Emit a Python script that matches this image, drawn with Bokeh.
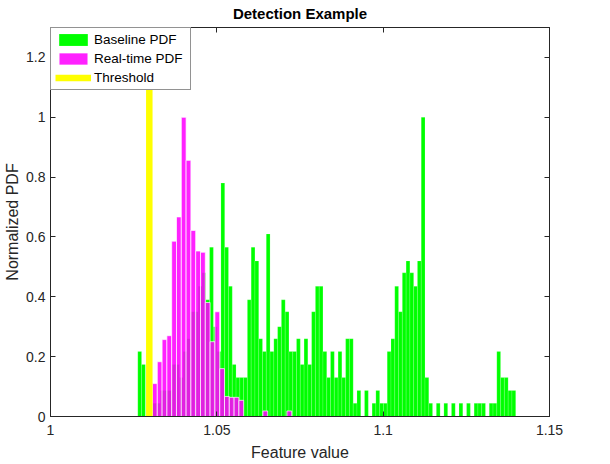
from bokeh.plotting import figure
from bokeh.models import (LinearAxis, Range1d, FixedTicker, Legend, LegendItem,
                          CustomLabelingPolicy)
from bokeh.embed import file_html
from bokeh.resources import INLINE

# Baseline feature distribution: 100 equal-width bins, normalised to peak = 1
baseline_start = 1.02624
baseline_width = 0.001136
baseline_pdf = [
    0.217, 0.174, 0.0, 0.0, 0.044, 0.044, 0.087, 0.087, 0.087, 0.174,
    0.174, 0.13, 0.217, 0.26, 0.35, 0.35, 0.435, 0.48, 0.39, 0.566,
    0.30, 0.217, 0.78, 0.566, 0.435, 0.174, 0.13, 0.13, 0.13, 0.39,
    0.566, 0.52, 0.26, 0.217, 0.61, 0.217, 0.26, 0.30, 0.39, 0.35,
    0.217, 0.217, 0.26, 0.174, 0.26, 0.174, 0.35, 0.435, 0.435, 0.217,
    0.13, 0.217, 0.13, 0.217, 0.13, 0.26, 0.26, 0.044, 0.087, 0.0,
    0.087, 0.0, 0.044, 0.087, 0.044, 0.044, 0.217, 0.26, 0.435, 0.35,
    0.48, 0.52, 0.48, 0.435, 0.52, 1.0, 0.13, 0.044, 0.0, 0.044,
    0.0, 0.044, 0.0, 0.044, 0.0, 0.044, 0.0, 0.044, 0.0, 0.044,
    0.044, 0.044, 0.0, 0.044, 0.044, 0.217, 0.13, 0.13, 0.087, 0.087,
]

# Real-time feature distribution
realtime_start = 1.03066
realtime_width = 0.001443
realtime_pdf = [
    0.11, 0.183, 0.257, 0.27, 0.586, 0.667, 1.0, 0.856, 0.622, 0.553,
    0.549, 0.381, 0.25, 0.35, 0.16, 0.067, 0.064, 0.064, 0.054, 0.0,
    0.0, 0.0, 0.0, 0.0185, 0.0, 0.0, 0.0, 0.0, 0.0185,
]

threshold = 1.0297

x_ticks = [1, 1.05, 1.1, 1.15]
y_ticks = [0, 0.2, 0.4, 0.6, 0.8, 1, 1.2]
x_tick_labels = {1: "1", 1.05: "1.05", 1.1: "1.1", 1.15: "1.15"}
y_tick_labels = {0: "0", 0.2: "0.2", 0.4: "0.4", 0.6: "0.6", 0.8: "0.8", 1: "1", 1.2: "1.2"}

FONT = "Liberation Sans"
AXIS_COLOR = "#262626"

b_centers = [baseline_start + (i + 0.5) * baseline_width for i in range(len(baseline_pdf))]
r_centers = [realtime_start + (i + 0.5) * realtime_width for i in range(len(realtime_pdf))]

p = figure(
    width=610, height=464,
    x_range=Range1d(1, 1.15), y_range=Range1d(0, 1.3),
    output_backend="svg", toolbar_location=None,
    min_border_left=50, min_border_right=61, min_border_top=27, min_border_bottom=48,
    title="Detection Example",
)
p.title.align = "center"
p.title.text_font = FONT
p.title.text_font_size = "15px"
p.title.text_font_style = "bold"
p.title.text_color = "black"
p.title.text_line_height = 0.9
p.title.standoff = 4

p.xgrid.visible = False
p.ygrid.visible = False
p.outline_line_color = AXIS_COLOR
p.background_fill_color = "white"
p.border_fill_color = "white"

green = p.vbar(x=b_centers, top=baseline_pdf, width=baseline_width,
               fill_color="#00FF00", line_color="white", line_alpha=0.3, line_width=0.5)
magenta = p.vbar(x=r_centers, top=realtime_pdf, width=realtime_width,
                 fill_color="#FF00FF", fill_alpha=0.87, line_color="white", line_width=0.7)
thr = p.segment(x0=[threshold], y0=[0], x1=[threshold], y1=[1.3],
                line_color="#FFFF00", line_width=6.5)


def style_axis(ax, ticks, labels, show_labels=True):
    ax.ticker = FixedTicker(ticks=ticks)
    ax.minor_tick_line_color = None
    ax.major_tick_in = 5
    ax.major_tick_out = 0
    ax.axis_line_color = AXIS_COLOR
    ax.major_tick_line_color = AXIS_COLOR
    ax.major_label_text_font = FONT
    ax.major_label_text_color = AXIS_COLOR
    if show_labels:
        ax.major_label_overrides = labels
        ax.major_label_text_font_size = "14px"
    else:
        # tick marks only, no numbers on the box edges
        ax.major_label_policy = CustomLabelingPolicy(
            code="for (const i of indices) indices.unset(i)")
        ax.major_label_text_font_size = "1px"
        ax.major_label_standoff = 0


style_axis(p.xaxis[0], x_ticks, x_tick_labels)
style_axis(p.yaxis[0], y_ticks, y_tick_labels)
p.xaxis[0].major_label_standoff = 8
p.yaxis[0].major_label_standoff = 5
p.xaxis[0].axis_label = "Feature value"
p.yaxis[0].axis_label = "Normalized PDF"
for ax in (p.xaxis[0], p.yaxis[0]):
    ax.axis_label_text_font = FONT
    ax.axis_label_text_font_size = "16px"
    ax.axis_label_text_font_style = "normal"
    ax.axis_label_text_color = AXIS_COLOR
p.xaxis[0].axis_label_standoff = 6
p.yaxis[0].axis_label_standoff = 2

top_ax = LinearAxis()
style_axis(top_ax, x_ticks, x_tick_labels, show_labels=False)
p.add_layout(top_ax, "above")
right_ax = LinearAxis()
style_axis(right_ax, y_ticks, y_tick_labels, show_labels=False)
p.add_layout(right_ax, "right")

legend = Legend(items=[
    LegendItem(label="Baseline PDF", renderers=[green]),
    LegendItem(label="Real-time PDF", renderers=[magenta]),
    LegendItem(label="Threshold", renderers=[thr]),
])
legend.location = "top_left"
legend.margin = 0
legend.padding = 4
legend.spacing = 4
legend.glyph_width = 36
legend.glyph_height = 15
legend.label_height = 15
legend.label_width = 92
legend.label_standoff = 3
legend.label_text_font = FONT
legend.label_text_font_size = "13.5px"
legend.label_text_color = "black"
legend.border_line_color = AXIS_COLOR
legend.border_line_width = 1
legend.background_fill_color = "white"
legend.background_fill_alpha = 1
p.add_layout(legend, "center")

open("out.html", "w").write(file_html(p, INLINE))
